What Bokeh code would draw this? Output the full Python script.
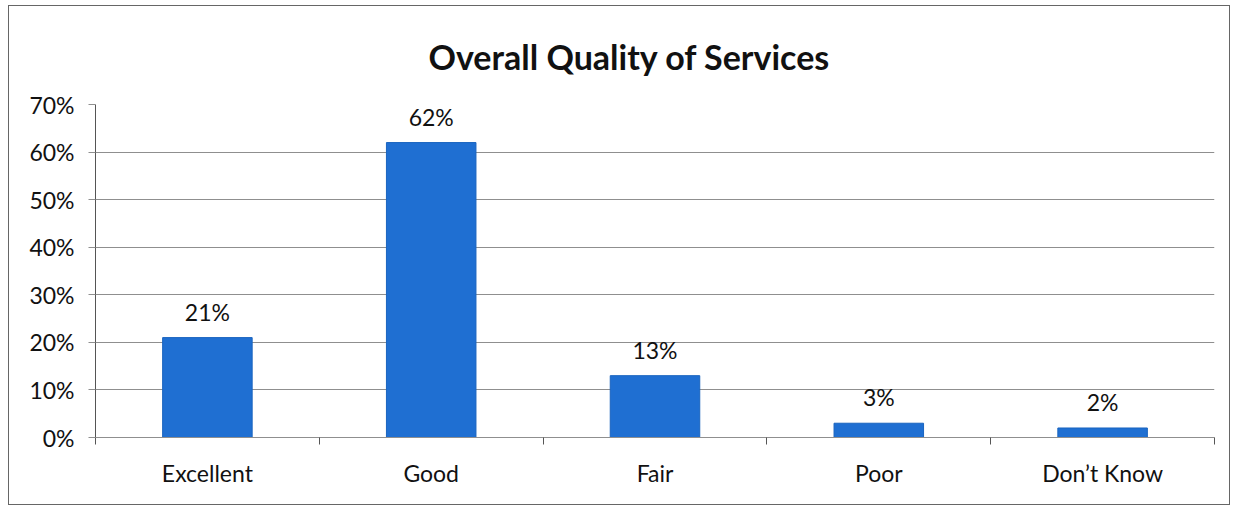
import numpy as np
from bokeh.plotting import figure
from bokeh.models import ColumnDataSource, FixedTicker, NumeralTickFormatter, Range1d, LabelSet
from bokeh.core.properties import value
from bokeh.embed import file_html
from bokeh.resources import INLINE

categories = ["Excellent", "Good", "Fair", "Poor", "Don\u2019t Know"]
values = [0.21, 0.62, 0.13, 0.03, 0.02]
value_labels = ["21%", "62%", "13%", "3%", "2%"]
y_ticks = [0.0, 0.1, 0.2, 0.3, 0.4, 0.5, 0.6, 0.7]
title_text = "Overall Quality of Services"

FONT = "Lato"
BAR = "#1F6FD2"
GRID = "#8f8f8f"

n = len(categories)
xs = np.arange(n) + 0.5
src = ColumnDataSource(dict(x=xs, top=values, lab=value_labels))

p = figure(width=1222, height=500, output_backend="svg", toolbar_location=None,
           x_range=Range1d(0, n), y_range=Range1d(0, 0.70),
           min_border_left=86, min_border_right=17, min_border_top=0, min_border_bottom=69)
p.margin = (5, 0, 0, 8)
p.styles = {"border": "1px solid #666", "box-sizing": "border-box"}

p.title.text = title_text
p.title.align = "left"
p.title.offset = 333
p.title.text_font = FONT
p.title.text_font_size = "34px"
p.title.text_font_style = "bold"
p.title.text_color = "#111111"
p.title.standoff = 55

p.vbar(x="x", top="top", width=0.4, bottom=0, source=src, fill_color=BAR, line_color="#1a64bf", line_width=1)

p.add_layout(LabelSet(x="x", y="top", text="lab", source=src, text_align="center", text_baseline="bottom",
                      y_offset=12, text_font=value(FONT), text_font_size="23px", text_color="#111111"))

# x axis: labels at centers, ticks at category boundaries
xa = p.xaxis[0]
xa.ticker = FixedTicker(ticks=list(xs), minor_ticks=list(range(n + 1)))
xa.major_label_overrides = {float(x): c for x, c in zip(xs, categories)}
xa.major_tick_in = 0
xa.major_tick_out = 0
xa.minor_tick_in = 0
xa.minor_tick_out = 7
xa.minor_tick_line_color = "#555555"
xa.axis_line_color = GRID
xa.major_label_standoff = 14
xa.major_label_text_font = FONT
xa.major_label_text_font_size = "23px"
xa.major_label_text_color = "#111111"

ya = p.yaxis[0]
ya.ticker = FixedTicker(ticks=y_ticks)
ya.formatter = NumeralTickFormatter(format="0%")
ya.major_tick_in = 0
ya.major_tick_out = 7
ya.minor_tick_line_color = None
ya.axis_line_color = "#555555"
ya.major_tick_line_color = GRID
ya.major_label_standoff = 14
ya.major_label_text_font = FONT
ya.major_label_text_font_size = "23px"
ya.major_label_text_color = "#111111"

p.xgrid.grid_line_color = None
p.ygrid.grid_line_color = GRID
p.ygrid.ticker = FixedTicker(ticks=y_ticks)
p.outline_line_color = None

open("out.html", "w").write(file_html(p, INLINE))
